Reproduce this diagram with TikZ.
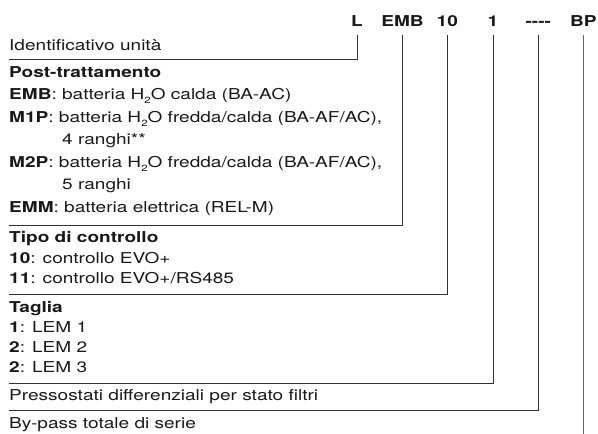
\documentclass[tikz,border=0pt]{standalone}
\usepackage{fontspec}
\setmainfont{TeX Gyre Heros}[FakeStretch=1.27]
\newcommand{\hsub}[1]{\raisebox{-0.55ex}{\fontsize{9}{9}\selectfont #1}}

\begin{document}
\begin{tikzpicture}[x=1pt,y=-1pt,
  code/.style={font=\fontsize{15}{17}\selectfont\bfseries,anchor=base,inner sep=0pt,outer ysep=9pt,text=black!90},
  entry/.style={font=\fontsize{15}{17}\selectfont,anchor=base west,inner sep=0pt,text=black!90},
  leader/.style={draw=black!80,line width=0.75pt}]
  \useasboundingbox (0,0) rectangle (598,434);

  % codice
  \node[code] (L) at (357,26) {L};
  \node[code] (EMB) at (402.5,26) {EMB};
  \node[code] (c10) at (447.3,26) {10};
  \node[code] (c1) at (493,26) {1};
  \node[code] (dash) at (538.3,26) {-\kern0pt-\kern0pt-\kern0pt-};
  \node[code] (BP) at (583.3,26) {BP};

  \coordinate (eL) at (9,59);
  \coordinate (eEMB) at (9,225);
  \coordinate (e10) at (9,294);
  \coordinate (e1) at (9,383);
  \coordinate (edash) at (9,410);
  \coordinate (eBP) at (583.3,434);

  % voci
  \node[entry] (id) at (9,50) {Identificativo unità};
  \node[entry] (post) at (9,77) {\textbf{Post-trattamento}};
  \node[entry] (emb) at (9,99.5) {\textbf{EMB}: batteria H\hsub{2}O calda (BA-AC)};
  \node[entry] (m1p) at (9,122) {\textbf{M1P}: batteria H\hsub{2}O fredda/calda (BA-AF/AC),};
  \node[entry] (m1pb) at (62,144.5) {4 ranghi**};
  \node[entry] (m2p) at (9,167) {\textbf{M2P}: batteria H\hsub{2}O fredda/calda (BA-AF/AC),};
  \node[entry] (m2pb) at (62,189.5) {5 ranghi};
  \node[entry] (emm) at (9,212) {\textbf{EMM}: batteria elettrica (REL-M)};
  \node[entry] (tipo) at (9,242) {\textbf{Tipo di controllo}};
  \node[entry] (t10) at (9,263) {\textbf{10}: controllo EVO+};
  \node[entry] (t11) at (9,283) {\textbf{11}: controllo EVO+/RS485};
  \node[entry] (taglia) at (9,312) {\textbf{Taglia}};
  \node[entry] (lem1) at (9,332) {\textbf{1}: LEM 1};
  \node[entry] (lem2) at (9,352) {\textbf{2}: LEM 2};
  \node[entry] (lem3) at (9,372) {\textbf{2}: LEM 3};
  \node[entry] (press) at (9,400) {Pressostati differenziali per stato filtri};
  \node[entry] (bypass) at (9,428) {By-pass totale di serie};

  \draw[leader] (L.south) |- (eL);
  \draw[leader] (EMB.south) |- (eEMB);
  \draw[leader] (c10.south) |- (e10);
  \draw[leader] (c1.south) |- (e1);
  \draw[leader] (dash.south) |- (edash);
  \draw[leader,draw=black!60,line width=1.1pt] (BP.south) -- (eBP);
\end{tikzpicture}
\end{document}
